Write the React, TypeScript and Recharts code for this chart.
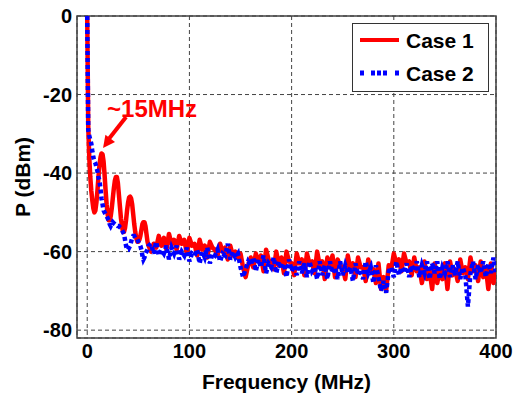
import React from 'react';
import { LineChart, Line, XAxis, YAxis, CartesianGrid, Legend, ReferenceArea, ReferenceLine, ReferenceDot } from 'recharts';

// frequency bins (MHz): 1 MHz up to 60, then 2.5 MHz steps to 400
const lowFreq = Array.from({ length: 61 }, (_, i) => i);
const highFreq = Array.from({ length: 136 }, (_, i) => 62.5 + i * 2.5);

// Case 1 (red) in dBm
const case1Low = [
  0, -28, -36, -41, -44.5, -47, -49, -50, -49.5, -47.5,
  -44.5, -41, -38, -36, -35, -35.2, -37, -40.5, -44.5, -48,
  -50.5, -52, -52, -51, -49, -46.5, -44, -42, -41, -41,
  -42.5, -45.5, -48.5, -51.5, -53.5, -55, -55, -54, -52, -49.5,
  -47.5, -46.2, -46, -46.5, -48, -50.5, -53, -55, -56.5, -57.5,
  -57.5, -57, -56, -54.5, -53, -52.5, -52.5, -53.5, -55.5, -57.5,
  -58.5,
];
const case1High = [
  -60, -58, -59, -56, -58.5, -56.5, -59.5, -55.5, -58, -57,
  -59.5, -56, -58, -57, -60.5, -56.5, -58.5, -58, -61, -57,
  -59.5, -58.5, -61.5, -57.5, -59, -59.5, -61, -58, -60, -59,
  -62, -58.5, -61, -60, -61.5, -60.5, -64, -66.5, -63.5, -61.5,
  -64, -60.5, -62.5, -61, -65, -59.5, -62, -63, -64.5, -60,
  -63.5, -61.5, -65.5, -60, -62.5, -63, -66, -60.5, -63, -62,
  -66, -60.5, -63, -62.5, -65.5, -60, -63.5, -62.5, -67, -61.5,
  -64, -61, -66.5, -62, -63.5, -64, -67, -61, -64.5, -63,
  -66.5, -61.5, -64, -64, -67.5, -62, -65, -64.5, -68, -63,
  -69.5, -66.5, -70, -63.5, -64.5, -60.5, -63, -62, -65, -60.5,
  -63, -62.5, -66, -61.5, -65, -64, -68, -62.5, -67, -65,
  -69.5, -63, -68, -64.5, -67, -63, -69.5, -62.5, -66, -64.5,
  -67.5, -62, -65.5, -64, -67, -61.5, -65, -63.5, -67.5, -62.5,
  -66.5, -64, -69.5, -63, -68, -65,
];

// Case 2 (blue) in dBm
const case2Low = [
  0, -29, -30.5, -31.5, -32.5, -34.5, -36, -37, -37.5, -38.5,
  -39.5, -41, -42, -44, -46.5, -48, -49.5, -50, -50.5, -51,
  -51.5, -52, -53, -53.5, -53, -52.5, -52.8, -53, -53.2, -53.2,
  -53.5, -53.5, -53.8, -54, -54.5, -55, -55.5, -57, -58.5, -59.5,
  -59.5, -59, -58.5, -57.5, -56.5, -56, -56, -56.5, -56.5, -56.8,
  -57.5, -58, -58.5, -59.5, -61, -62, -61.5, -60.5, -60, -59.5,
  -58.5,
];
const case2High = [
  -58, -60.5, -57.5, -61, -59.5, -60.5, -58.5, -62, -59, -60.5,
  -58.5, -62, -60, -61, -59, -62.5, -60.5, -61, -59.5, -63,
  -60, -61.5, -59, -63, -60.5, -61, -59.5, -62.5, -60.5, -61,
  -58, -62, -60, -61.5, -60.5, -64, -66.5, -64.5, -62.5, -63.5,
  -61.5, -65, -62, -64, -61, -65.5, -63, -64, -61.5, -65.5,
  -62.5, -64.5, -63, -66.5, -62, -65, -63.5, -66, -62.5, -65.5,
  -63, -66.5, -62.5, -65, -64, -67, -62.5, -66, -63.5, -67,
  -62.5, -65.5, -64, -67, -62.5, -66, -63.5, -65.5, -64, -67.5,
  -63, -66, -64.5, -67, -62.5, -65.5, -64, -68, -63.5, -66.5,
  -70, -67.5, -70.5, -65, -64, -66.5, -62.5, -66, -64, -65.5,
  -63, -66.5, -63.5, -65, -62.5, -66.5, -63.5, -65.5, -62.5, -67,
  -63, -65.5, -62.5, -67, -64, -65.5, -62.5, -66.5, -63.5, -66,
  -62.5, -67, -64, -66, -74, -65.5, -62.5, -67, -63.5, -65.5,
  -62.5, -66.5, -63, -65.5, -61.5, -66,
];

const xTicks = [0, 100, 200, 300, 400];
const yTicks = [0, -20, -40, -60, -80];

const freqs = [...lowFreq, ...highFreq];
const case1 = [...case1Low, ...case1High];
const case2 = [...case2Low, ...case2High];
const data = freqs.map((f, i) => ({ f, case1: case1[i], case2: case2[i] }));

const FONT = '"Liberation Sans", Arial, sans-serif';
const RED = '#ff0000';
const BLUE = '#0000ff';

const YTitle = (props: any) => {
  const vb = props.viewBox || { x: 0, y: 16, height: 322 };
  const cx = vb.x + 22;
  const cy = vb.y + vb.height / 2;
  return (
    <text x={cx} y={cy} transform={`rotate(-90 ${cx} ${cy})`} textAnchor="middle" dominantBaseline="central"
      fill="#000" fontSize={21} fontWeight="bold" fontFamily={FONT}>P (dBm)</text>
  );
};

const ArrowHead = (props: any) => {
  const { cx, cy } = props;
  // pointing down-left
  const ux = -0.596, uy = 0.803;
  const len = 12, half = 6;
  const bx = cx - ux * len, by = cy - uy * len;
  const px = -uy, py = ux;
  const pts = `${cx},${cy} ${bx + px * half},${by + py * half} ${bx - px * half},${by - py * half}`;
  return <polygon points={pts} fill={RED} />;
};

const Note = (props: any) => (
  <text x={props.cx} y={props.cy} fill={RED} fontSize={24} fontWeight="bold" fontFamily={FONT}>~15MHz</text>
);

const renderLegend = () => (
  <div style={{ position: 'relative', width: 137, height: 69, border: '1.5px solid #333', background: '#fff', boxSizing: 'border-box' }}>
    <svg width={134} height={66} style={{ position: 'absolute', left: 0, top: 0 }}>
      <line x1={7} y1={16} x2={46} y2={16} stroke={RED} strokeWidth={4} />
      <text x={53} y={24} fontSize={21} fontWeight="bold" fontFamily={FONT} fill="#000">Case 1</text>
      <line x1={7} y1={49} x2={46} y2={49} stroke={BLUE} strokeWidth={5} strokeDasharray="4 7 4 2 4 2 4 8 4" />
      <text x={53} y={57} fontSize={21} fontWeight="bold" fontFamily={FONT} fill="#000">Case 2</text>
    </svg>
  </div>
);

const tickStyle = { fill: '#000', fontSize: 20, fontWeight: 'bold', fontFamily: FONT };

export default function App() {
  return (
    <div style={{ position: 'absolute', left: 0, top: 0, width: 515, height: 393, background: '#fff' }}>
      <LineChart width={515} height={393} data={data} margin={{ top: 16, right: 19, left: 0, bottom: 0 }}>
        <CartesianGrid stroke="#444" strokeDasharray="4 3" strokeWidth={1} />
        <XAxis dataKey="f" type="number" domain={[-10, 400]} ticks={xTicks} allowDataOverflow
          height={55} axisLine={false} tickLine={false} tickSize={0} tickMargin={6} tick={tickStyle}
          label={{ value: 'Frequency (MHz)', position: 'insideBottom', offset: 4, fill: '#000', fontSize: 21, fontWeight: 'bold', fontFamily: FONT }} />
        <YAxis type="number" domain={[-82, 0]} ticks={yTicks} allowDataOverflow
          width={77} axisLine={false} tickLine={false} tickSize={0} tickMargin={5} tick={tickStyle}
          label={<YTitle />} />
        <ReferenceArea x1={-10} x2={400} y1={-82} y2={0} fill="none" stroke="#404040" strokeWidth={1.5} ifOverflow="visible" />
        <Line dataKey="case1" stroke={RED} strokeWidth={4.5} dot={false} activeDot={false} isAnimationActive={false} strokeLinejoin="round" />
        <Line dataKey="case2" stroke={BLUE} strokeWidth={4.5} dot={false} activeDot={false} isAnimationActive={false} strokeDasharray="4 3" />
        <ReferenceLine segment={[{ x: 38, y: -25.7 }, { x: 21.5, y: -31.2 }]} stroke={RED} strokeWidth={4} ifOverflow="visible" />
        <ReferenceDot x={15.5} y={-33.6} shape={ArrowHead} ifOverflow="visible" />
        <ReferenceDot x={19.4} y={-25.7} shape={Note} ifOverflow="visible" />
        <Legend layout="horizontal" verticalAlign="middle" align="center" content={renderLegend}
          wrapperStyle={{ position: 'absolute', top: 23, left: 352, width: 137, height: 69 }} />
      </LineChart>
    </div>
  );
}
